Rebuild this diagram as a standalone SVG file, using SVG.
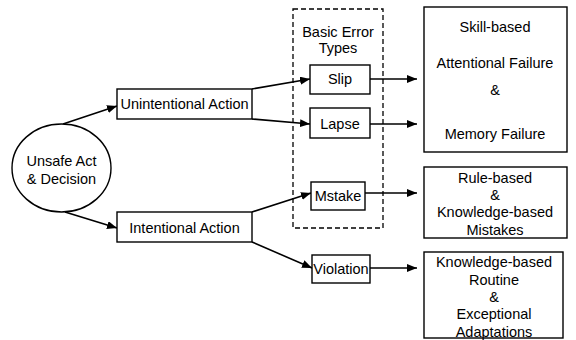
<svg xmlns="http://www.w3.org/2000/svg" width="576" height="340" viewBox="0 0 576 340">
<defs>
<marker id="ah" markerWidth="10" markerHeight="8" refX="10" refY="4" orient="auto" markerUnits="userSpaceOnUse">
<path d="M0,0 L10,4 L0,8 Z" fill="#000"/>
</marker>
<style>
.b{fill:#fff;stroke:#000;stroke-width:1.4}
.t{font-family:"Liberation Sans",Arial,sans-serif;font-size:14.5px;fill:#000;text-anchor:middle}
.c{stroke:#000;stroke-width:1.6;fill:none}
</style>
</defs>
<rect width="576" height="340" fill="#fff"/>
<g id="basic-error-types">
<rect x="293" y="9" width="90" height="219" fill="none" stroke="#000" stroke-width="1.3" stroke-dasharray="5,3"/>
<text class="t" x="338" y="37">Basic Error</text>
<text class="t" x="338" y="53">Types</text>
</g>
<g id="connectors">
<line class="c" x1="63" y1="124" x2="117" y2="106" marker-end="url(#ah)"/>
<line class="c" x1="65" y1="212" x2="117" y2="228" marker-end="url(#ah)"/>
<line class="c" x1="252" y1="89" x2="310" y2="79" marker-end="url(#ah)"/>
<line class="c" x1="252" y1="119" x2="310" y2="124" marker-end="url(#ah)"/>
<line class="c" x1="252" y1="212" x2="311" y2="193" marker-end="url(#ah)"/>
<line class="c" x1="252" y1="242" x2="312" y2="268" marker-end="url(#ah)"/>
<line class="c" x1="370" y1="79" x2="417" y2="79" marker-end="url(#ah)"/>
<line class="c" x1="370" y1="124" x2="417" y2="124" marker-end="url(#ah)"/>
<line class="c" x1="365" y1="193" x2="417" y2="193" marker-end="url(#ah)"/>
<line class="c" x1="370" y1="268" x2="417" y2="268" marker-end="url(#ah)"/>
</g>
<g id="unsafe-act">
<ellipse class="b" cx="61.5" cy="168" rx="49.5" ry="44"/>
<text class="t" x="61.5" y="166">Unsafe Act</text>
<text class="t" x="61.5" y="184">&amp; Decision</text>
</g>
<g id="unintentional-action">
<rect class="b" x="117" y="89" width="135" height="30"/>
<text class="t" x="184.5" y="109">Unintentional Action</text>
</g>
<g id="intentional-action">
<rect class="b" x="117" y="212" width="135" height="30"/>
<text class="t" x="184.5" y="233">Intentional Action</text>
</g>
<g id="slip">
<rect class="b" x="310" y="65" width="60" height="29"/>
<text class="t" x="340" y="84">Slip</text>
</g>
<g id="lapse">
<rect class="b" x="310" y="108" width="60" height="30"/>
<text class="t" x="340" y="129">Lapse</text>
</g>
<g id="mstake">
<rect class="b" x="311" y="182" width="54" height="28"/>
<text class="t" x="338" y="201">Mstake</text>
</g>
<g id="violation">
<rect class="b" x="312" y="255" width="58" height="28"/>
<text class="t" x="341" y="274">Violation</text>
</g>
<g id="skill-based">
<rect class="b" x="424" y="7" width="143" height="145"/>
<text class="t" x="495" y="32">Skill-based</text>
<text class="t" x="495" y="68">Attentional Failure</text>
<text class="t" x="495" y="95">&amp;</text>
<text class="t" x="495" y="139">Memory Failure</text>
</g>
<g id="rule-based">
<rect class="b" x="424" y="167" width="143" height="71"/>
<text class="t" x="495" y="183">Rule-based</text>
<text class="t" x="495" y="200">&amp;</text>
<text class="t" x="495" y="217">Knowledge-based</text>
<text class="t" x="495" y="235">Mistakes</text>
</g>
<g id="knowledge-based">
<rect class="b" x="424" y="252" width="139" height="86"/>
<text class="t" x="494" y="267">Knowledge-based</text>
<text class="t" x="494" y="285">Routine</text>
<text class="t" x="494" y="302">&amp;</text>
<text class="t" x="494" y="319">Exceptional</text>
<text class="t" x="494" y="337">Adaptations</text>
</g>
</svg>
